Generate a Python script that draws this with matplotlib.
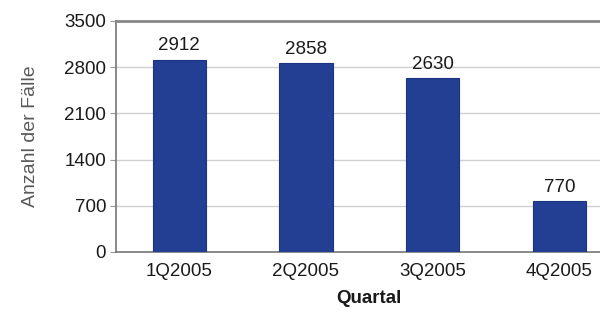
import matplotlib
matplotlib.use("Agg")
import matplotlib.pyplot as plt

quarters = ["1Q2005", "2Q2005", "3Q2005", "4Q2005"]
cases = [2912, 2858, 2630, 770]
yticks = [0, 700, 1400, 2100, 2800, 3500]

plt.rcParams["font.family"] = ["Liberation Sans", "DejaVu Sans"]

fig = plt.figure(figsize=(6, 3.2), dpi=100)
fig.patch.set_facecolor("white")
ax = fig.add_axes([0.193, 0.2125, 0.845, 0.722])

x = range(len(quarters))
bars = ax.bar(x, cases, width=0.42, color="#233f94", edgecolor="#1c3380",
              linewidth=0.8, zorder=3)

for xi, v in zip(x, cases):
    ax.annotate(f"{v}", (xi, v), xytext=(0, 4), textcoords="offset points",
                ha="center", va="bottom", fontsize=13.5, color="#1a1a1a")

ax.set_xlim(-0.5, 3.5)
ax.set_ylim(0, 3500)
ax.set_yticks(yticks)
ax.set_xticks(list(x))
ax.set_xticklabels(quarters)
ax.tick_params(axis="y", length=4, color="#999999", labelsize=13.5,
               labelcolor="#1a1a1a", pad=3)
ax.tick_params(axis="x", length=0, labelsize=13.5, labelcolor="#1a1a1a", pad=8)

ax.grid(axis="y", color="#d0d0d0", linewidth=1.0, zorder=0)
ax.set_axisbelow(True)

for side in ("left", "bottom"):
    ax.spines[side].set_color("#777777")
    ax.spines[side].set_linewidth(1.2)
ax.spines["top"].set_color("#888888")
ax.spines["top"].set_linewidth(2.0)
ax.spines["right"].set_visible(False)

ax.set_ylabel("Anzahl der Fälle", fontsize=14, color="#5a5a5a", labelpad=18)
ax.set_xlabel("Quartal", fontsize=13.5, fontweight="bold", color="#1a1a1a",
              labelpad=7)

fig.savefig("out.png", dpi=100)
